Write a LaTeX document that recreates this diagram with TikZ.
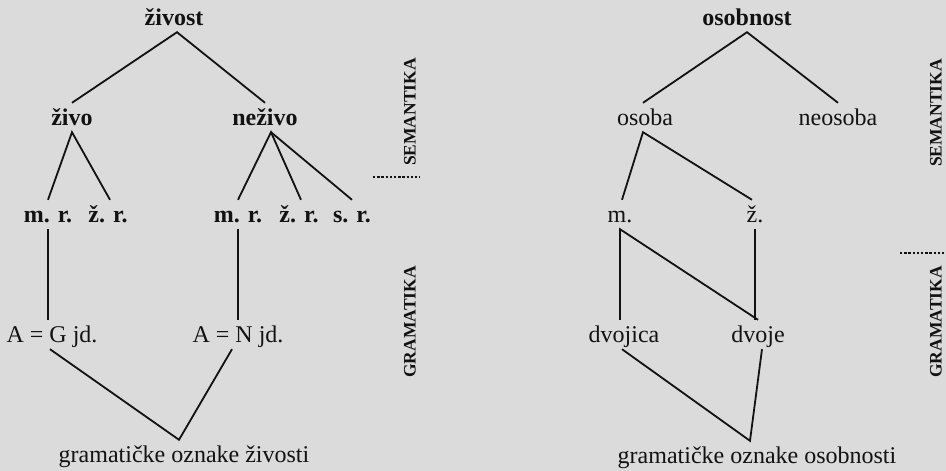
\documentclass[tikz,border=0pt]{standalone}
\usepackage{fontspec}
\setmainfont{Liberation Serif}
\definecolor{pagetone}{gray}{0.86}
\definecolor{ink}{gray}{0.07}
\begin{document}
\begin{tikzpicture}[x=1pt,y=-1pt,
  lbl/.style={font=\fontsize{24}{28}\selectfont, text=ink, anchor=base,
              text height=15pt, text depth=0pt, inner xsep=2pt, inner ysep=7pt},
  lblb/.style={lbl, font=\fontsize{24}{28}\selectfont\bfseries},
  edge/.style={draw=ink, line width=1.8pt},
  side/.style={font=\fontsize{17.5}{20}\selectfont\bfseries, text=ink,
               rotate=90, inner sep=0pt},
  levelsep/.style={draw=ink, line width=1.6pt, dash pattern=on 2.4pt off 1.8pt}]

% page tone
\path[fill=pagetone] (0,0) rectangle (946,471);
\useasboundingbox (0,0) rectangle (946,471);

% ---- animacy tree (left) ----
\node[lblb] (zivost) at (174,25) {živost};
\node[lblb] (zivo)   at (72,125)  {živo};
\node[lblb] (nezivo) at (265,125) {neživo};
\node[lblb] (mr1) at (48,222)  {m. r.};
\node[lblb] (zr1) at (108,222) {ž. r.};
\node[lblb] (mr2) at (238,222) {m. r.};
\node[lblb] (zr2) at (299,222) {ž. r.};
\node[lblb] (sr2) at (352,222) {s. r.};
\node[lbl] (AG) at (52,342)  {A = G jd.};
\node[lbl] (AN) at (238,342) {A = N jd.};
\node[lbl] (gz) at (184,462) {gramatičke oznake živosti};

\draw[edge] (zivo.north) -- ([xshift=3pt]zivost.south) -- (nezivo.north);
\draw[edge] (mr1.north) -- (zivo.south) -- ([xshift=2pt]zr1.north);
\draw[edge] (mr2.north) -- ([xshift=6pt]nezivo.south) -- ([xshift=2pt]zr2.north);
\draw[edge] ([xshift=6pt]nezivo.south) -- (sr2.north);
\draw[edge] (mr1.south) -- (mr1.south |- AG.north);
\draw[edge] (mr2.south) -- (mr2.south |- AN.north);
\draw[edge] ([xshift=-2pt]AG.south) -- ([xshift=-5pt]gz.north) -- ([xshift=-6pt]AN.south);

% ---- personhood tree (right) ----
\node[lblb] (osobnost) at (747,25) {osobnost};
\node[lbl] (osoba)   at (645,125) {osoba};
\node[lbl] (neosoba) at (838,125) {neosoba};
\node[lbl] (m) at (620,222) {m.};
\node[lbl] (z) at (755,222) {ž.};
\node[lbl] (dvojica) at (624,342) {dvojica};
\node[lbl] (dvoje)   at (758,342) {dvoje};
\node[lbl] (go) at (757,463) {gramatičke oznake osobnosti};

\draw[edge] ([xshift=-2pt]osoba.north) -- (osobnost.south) -- (neosoba.north);
\draw[edge] ([xshift=2pt]m.north) -- ([xshift=-2pt]osoba.south) -- ([xshift=-3pt]z.north);
\draw[edge] (m.south |- dvojica.north) -- (m.south) -- (dvoje.north);
\draw[edge] (z.south) -- (z.south |- dvoje.north);
\draw[edge] ([xshift=-2pt]dvojica.south) -- ([xshift=-7pt]go.north) -- ([xshift=4pt]dvoje.south);

% ---- level labels ----
\node[side] (sem1) at (410,112) {SEMANTIKA};
\node[side] (gra1) at (410,322) {GRAMATIKA};
\node[side] (sem2) at (936,113) {SEMANTIKA};
\node[side] (gra2) at (936,322) {GRAMATIKA};
\coordinate (d1a) at (373,177);
\coordinate (d1b) at (420,177);
\coordinate (d2a) at (900,253);
\coordinate (d2b) at (946,253);
\draw[levelsep] (d1a) -- (d1b);
\draw[levelsep] (d2a) -- (d2b);
\end{tikzpicture}
\end{document}
